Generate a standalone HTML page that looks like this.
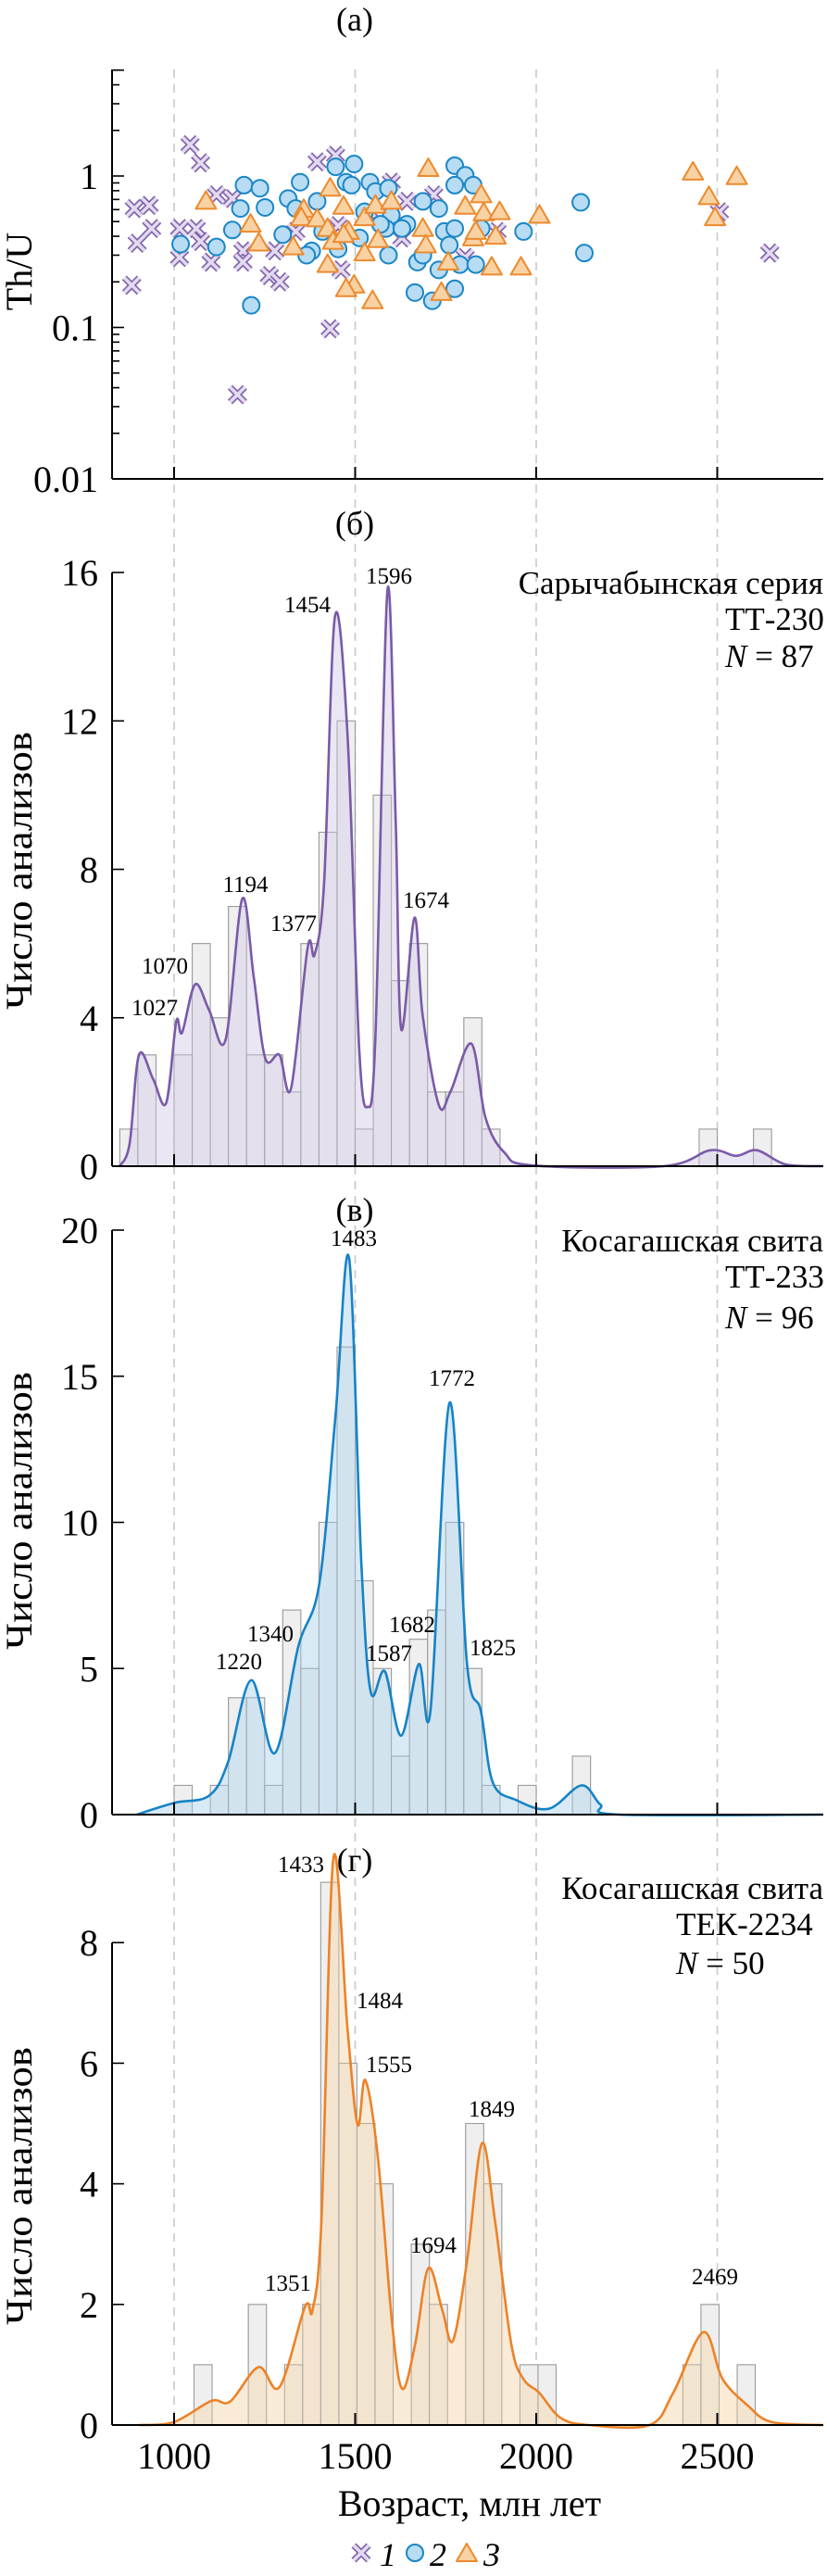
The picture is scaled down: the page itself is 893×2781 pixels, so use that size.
<!DOCTYPE html>
<html><head><meta charset="utf-8"><style>
html,body{margin:0;padding:0;background:#fff;}
svg, svg text{font-family:"Liberation Serif","DejaVu Serif",serif;}
</style></head><body>
<svg id="fig" width="893" height="2776" viewBox="0 0 893 2776" font-family="Liberation Serif, DejaVu Serif, serif"></svg>
<script>
// ---------- data ----------
const s1Age=[1044,1073,890,931,938,898,883,1015,1061,1015,1073,1102,1117,1161,1190,1190,1263,1292,1175,1395,1446,1431,1461,1600,1643,1629,1717,1804,1892,2506,2645,1278,1336,1453,1541];
const s1Th=[1.61,1.22,0.61,0.64,0.45,0.36,0.19,0.45,0.45,0.29,0.37,0.27,0.75,0.71,0.32,0.27,0.22,0.2,0.036,1.24,1.37,0.098,0.24,0.91,0.68,0.39,0.75,0.29,0.43,0.58,0.31,0.32,0.43,0.47,0.58];
const s2Age=[1018,1117,1161,1183,1193,1237,1251,1213,1300,1315,1348,1336,1380,1395,1410,1446,1497,1475,1490,1541,1556,1592,1600,1585,1592,1526,1512,1453,1366,1643,1687,1672,1687,1731,1746,1760,1731,1775,1804,1826,1775,1775,1789,1833,1775,1665,1713,1848,1965,2123,2133,1570,1629];
const s2Th=[0.355,0.34,0.44,0.61,0.87,0.83,0.62,0.14,0.41,0.71,0.91,0.61,0.32,0.68,0.43,1.15,1.2,0.91,0.87,0.91,0.79,0.83,0.55,0.45,0.30,0.58,0.39,0.33,0.30,0.48,0.68,0.27,0.30,0.61,0.43,0.35,0.24,1.17,1.01,0.87,0.87,0.45,0.26,0.26,0.18,0.17,0.15,0.45,0.43,0.67,0.31,0.48,0.45];
const s3Age=[1088,1211,1234,1329,1358,1351,1395,1431,1424,1424,1439,1468,1482,1468,1497,1475,1526,1526,1548,1556,1563,1600,1687,1695,1702,1738,1757,1804,1826,1833,1848,1855,1899,1888,1877,1958,2009,2433,2477,2494,2554];
const s3Th=[0.68,0.48,0.36,0.34,0.6,0.53,0.52,0.83,0.45,0.26,0.37,0.63,0.43,0.41,0.19,0.18,0.53,0.31,0.15,0.64,0.38,0.68,0.45,0.35,1.12,0.17,0.27,0.63,0.39,0.43,0.75,0.57,0.58,0.40,0.25,0.25,0.55,1.06,0.73,0.53,0.99];
const aTicks=[1,0.1,0.01];
const aTickLabels=["1","0.1","0.01"];
const xTicks=[1000,1500,2000,2500];

const bBins=[850,900,950,1000,1050,1100,1150,1200,1250,1300,1350,1400,1450,1500,1550,1600,1650,1700,1750,1800,1850,2450,2600];
const bCounts=[1,3,0,3,6,4,7,3,3,2,6,9,12,1,10,5,6,2,2,4,1,1,1];
const bKdeAge=[850,877,903,942,978,1006,1022,1058,1097,1142,1188,1220,1252,1291,1323,1369,1388,1414,1444,1479,1511,1534,1556,1589,1612,1627,1664,1686,1731,1763,1821,1860,1912,1990,2352,2481,2552,2610,2688,2792];
const bKdeVal=[0,0.6,3.0,2.35,1.7,3.9,3.6,4.9,4.2,3.4,7.2,5.1,2.9,3.0,2.1,5.9,5.7,7.6,14.8,11.6,3.2,1.6,3.5,15.5,9.3,3.7,6.7,4.1,1.65,2.0,3.3,1.3,0.37,0.02,0,0.43,0.28,0.43,0.05,0];
const bPeaks=[1027,1070,1194,1377,1454,1596,1674];
const bYTicks=[0,4,8,12,16];

const vBins=[1000,1050,1100,1150,1200,1250,1300,1350,1400,1450,1500,1550,1600,1650,1700,1750,1800,1850,1900,1950,2000,2050,2100];
const vCounts=[1,0,1,4,4,1,7,5,10,16,8,5,2,6,7,10,5,1,0,1,0,0,2];
const vKdeAge=[897,1000,1097,1149,1213,1278,1343,1401,1446,1483,1517,1543,1582,1627,1676,1708,1761,1809,1847,1880,1944,2035,2125,2177,2229,2792];
const vKdeVal=[0,0.4,0.65,1.8,4.6,2.1,5.75,7.9,13.7,19.05,8.65,4.2,4.9,2.7,5.15,3.55,14.1,5.15,3.55,1.1,0.5,0.2,1.0,0.35,0,0];
const vPeaks=[1220,1340,1483,1587,1682,1772,1825];
const vYTicks=[0,5,10,15,20];

const gBins=[1055,1105,1155,1205,1255,1305,1355,1405,1455,1505,1555,1605,1655,1705,1755,1805,1855,1905,1955,2005,2405,2455,2505,2555];
const gCounts=[1,0,0,2,0,1,2,9,6,5,4,0,3,2,0,5,4,0,1,1,1,2,0,1];
const gKdeAge=[903,1000,1103,1155,1233,1291,1362,1382,1407,1440,1479,1507,1528,1563,1602,1630,1666,1702,1741,1770,1809,1850,1886,1931,1964,2009,2067,2145,2313,2378,2462,2514,2585,2650,2792];
const gKdeVal=[0,0.05,0.4,0.39,0.96,0.63,1.97,1.9,3.4,9.4,6.56,4.98,5.72,4.43,1.69,0.6,1.35,2.6,1.9,1.4,2.72,4.67,3.4,1.35,0.77,0.53,0.12,0,0,0.53,1.54,0.77,0.32,0.05,0];
const gPeaks=[1351,1433,1484,1555,1694,1849,2469];
const gYTicks=[0,2,4,6,8];

// ---------- helpers ----------
const NS="http://www.w3.org/2000/svg";
const FONT='Liberation Serif, DejaVu Serif, serif';
const svg=document.getElementById('fig');
function mk(tag,attrs,parent){const e=document.createElementNS(NS,tag);for(const k in attrs)e.setAttribute(k,attrs[k]);(parent||svg).appendChild(e);return e;}
function txt(str,x,y,size,anchor,parent,extra){const t=mk('text',Object.assign({x:x,y:y,'font-size':size,'font-family':FONT,'text-anchor':anchor||'middle',fill:'#000'},extra||{}),parent);t.textContent=str;return t;}
const X0=121,X1=889;
function xs(age){return 188+(age-1000)*0.391;}
function smoothPath(pts){let d='M'+pts[0][0].toFixed(1)+','+pts[0][1].toFixed(1);for(let i=0;i<pts.length-1;i++){const p0=pts[Math.max(0,i-1)],p1=pts[i],p2=pts[i+1],p3=pts[Math.min(pts.length-1,i+2)];const c1x=p1[0]+(p2[0]-p0[0])/6,c1y=p1[1]+(p2[1]-p0[1])/6,c2x=p2[0]-(p3[0]-p1[0])/6,c2y=p2[1]-(p3[1]-p1[1])/6;d+=' C'+c1x.toFixed(1)+','+c1y.toFixed(1)+' '+c2x.toFixed(1)+','+c2y.toFixed(1)+' '+p2[0].toFixed(1)+','+p2[1].toFixed(1);}return d;}

const guides=mk('g',{});


xTicks.forEach(a=>{const l=mk('line',{x1:xs(a),x2:xs(a),y1:75,y2:2618,stroke:'#c8c8c8','stroke-width':1.6,'stroke-dasharray':'9,7'},guides);

});

// ---------- panel (a) ----------
const pa=mk('g',{});


const tA=txt('(a)',383,33,36,'middle',pa);


const ATOP=75,ABOT=517;
function ya(v){return 190-Math.log10(v)*163.5;}
function cross(x,y,parent){const g=mk('g',{},parent);const d='M'+(x-8)+','+(y-8)+'L'+(x+8)+','+(y+8)+'M'+(x+8)+','+(y-8)+'L'+(x-8)+','+(y+8);mk('path',{d:d,stroke:'#8566ad','stroke-width':7,'stroke-linecap':'butt'},g);mk('path',{d:d,stroke:'#e2dbef','stroke-width':3.5},g);return g;}
function circ(x,y,parent){return mk('circle',{cx:x,cy:y,r:9,fill:'#b7dcf3',stroke:'#1a86c7','stroke-width':2},parent);}
function tri(x,y,parent){return mk('path',{d:'M'+x+','+(y-11)+'L'+(x+11)+','+(y+8)+'L'+(x-11)+','+(y+8)+'Z',fill:'#f8d2a3',stroke:'#ec8a2e','stroke-width':2,'stroke-linejoin':'round'},parent);}
const g1=mk('g',{},pa);
s1Age.forEach((a,i)=>{const m=cross(xs(a),ya(s1Th[i]),g1);

});
const g2=mk('g',{},pa);
s2Age.forEach((a,i)=>{const m=circ(xs(a),ya(s2Th[i]),g2);

});
const g3=mk('g',{},pa);
s3Age.forEach((a,i)=>{const m=tri(xs(a),ya(s3Th[i]),g3);

});
const axA=mk('g',{},pa);
mk('line',{x1:X0,x2:X0,y1:ATOP,y2:ABOT,stroke:'#000','stroke-width':2},axA);
mk('line',{x1:X0,x2:X1,y1:ABOT,y2:ABOT,stroke:'#000','stroke-width':2},axA);
for(let k=-2;k<=0;k++){for(let m=1;m<=9;m++){const v=m*Math.pow(10,k);if(v>5.01)break;const y=ya(v);mk('line',{x1:X0,x2:X0+(m===1?13:8),y1:y,y2:y,stroke:'#000','stroke-width':1.6},axA);}}
mk('line',{x1:X0,x2:X0+13,y1:ya(5),y2:ya(5),stroke:'#000','stroke-width':1.6},axA);
aTicks.forEach((v,i)=>{const t=txt(aTickLabels[i],106,ya(v)+14,40,'end',axA);

});
xTicks.forEach(a=>{mk('line',{x1:xs(a),x2:xs(a),y1:ABOT,y2:ABOT-13,stroke:'#000','stroke-width':2},axA);});
const ylA=txt('Th/U',0,0,40,'middle',axA,{transform:'translate(34,293) rotate(-90)'});



// ---------- histogram panels ----------
function histPanel(cfg){
  const g=mk('g',{});
  
  
  const yv=v=>cfg.y0-v*cfg.unit;
  const t=txt(cfg.title,383,cfg.titleY,36,'middle',g);
  
  
  const bars=mk('g',{},g);
  
  
  cfg.bins.forEach((b,i)=>{if(!cfg.counts[i])return;const x=xs(b),w=xs(b+50)-x;const r=mk('rect',{x:x,y:yv(cfg.counts[i]),width:w,height:cfg.counts[i]*cfg.unit,fill:'#efefef',stroke:'#9a9a9a','stroke-width':1.1},bars);
  
  });
  const pts=cfg.kdeAge.map((a,i)=>[xs(a),yv(cfg.kdeVal[i])]);
  const d=smoothPath(pts);
  const f=mk('path',{d:d+' L'+pts[pts.length-1][0]+','+cfg.y0+' L'+pts[0][0]+','+cfg.y0+' Z',fill:cfg.fill,'fill-opacity':0.55,stroke:'none'},g);
  
  
  const bo=mk('g',{},g);
  cfg.bins.forEach((b,i)=>{if(!cfg.counts[i])return;const x=xs(b),w=xs(b+50)-x;mk('rect',{x:x,y:yv(cfg.counts[i]),width:w,height:cfg.counts[i]*cfg.unit,fill:'none',stroke:'#a0a0a0','stroke-width':0.8,'stroke-opacity':0.6},bo);});
  const l=mk('path',{d:d,fill:'none',stroke:cfg.color,'stroke-width':2.6},g);
  
  
  const ax=mk('g',{},g);
  
  
  mk('line',{x1:X0,x2:X0,y1:yv(cfg.yTicks[cfg.yTicks.length-1]),y2:cfg.y0,stroke:'#000','stroke-width':2},ax);
  mk('line',{x1:X0,x2:X1,y1:cfg.y0,y2:cfg.y0,stroke:'#000','stroke-width':2},ax);
  cfg.yTicks.forEach(v=>{mk('line',{x1:X0,x2:X0+13,y1:yv(v),y2:yv(v),stroke:'#000','stroke-width':1.6},ax);
    const tl=txt(String(v),106,yv(v)+14,40,'end',ax);
    
    });
  xTicks.forEach(a=>{mk('line',{x1:xs(a),x2:xs(a),y1:cfg.y0,y2:cfg.y0-13,stroke:'#000','stroke-width':2},ax);});
  const yl=txt('Число анализов',0,0,40,'middle',ax,{transform:'translate(34,'+cfg.ylabY+') rotate(-90)',textLength:300,lengthAdjust:'spacingAndGlyphs'});
  
  
  cfg.peaks.forEach((p,i)=>{const pl=txt(String(p),cfg.peakX[i],cfg.peakY[i],25,'middle',g);
    
    });
  const s1=txt(cfg.info[0],889,cfg.infoY[0],35,'end',g);
  
  
  const s2=txt(cfg.info[1],cfg.infoX,cfg.infoY[1],35,'start',g);
  
  
  const s3=mk('text',{x:cfg.infoX,y:cfg.infoY[2],'font-size':35,'font-family':FONT,fill:'#000'},g);
  
  
  const it=mk('tspan',{'font-style':'italic'},s3);it.textContent='N';
  const rt=mk('tspan',{},s3);rt.textContent=' = '+cfg.n;
}
histPanel({name:'panel-b-saryuchabyn',title:'(б)',titleY:577,y0:1259,unit:40.06,bins:bBins,counts:bCounts,kdeAge:bKdeAge,kdeVal:bKdeVal,color:'#7a5aa8',fill:'#d9d2ea',yTicks:bYTicks,ylabY:940,
  peaks:bPeaks,peakX:[167,178,265,317,332,420,460],peakY:[1096,1051,963,1005,661,630,980],info:['Сарычабынская серия','ТТ-230'],infoX:783,infoY:[641,680,720],n:87});
histPanel({name:'panel-v-kosagash-tt233',title:'(в)',titleY:1318,y0:1959,unit:31.55,bins:vBins,counts:vCounts,kdeAge:vKdeAge,kdeVal:vKdeVal,color:'#1683c6',fill:'#b8d8ef',yTicks:vYTicks,ylabY:1631,
  peaks:vPeaks,peakX:[258,292,382,420,445,488,532],peakY:[1802,1772,1345,1793,1762,1496,1787],info:['Косагашская свита','ТТ-233'],infoX:783,infoY:[1351,1390,1434],n:96});
histPanel({name:'panel-g-kosagash-tek2234',title:'(г)',titleY:2020,y0:2618,unit:65.1,bins:gBins,counts:gCounts,kdeAge:gKdeAge,kdeVal:gKdeVal,color:'#ec8228',fill:'#f5dbb5',yTicks:gYTicks,ylabY:2360,
  peaks:gPeaks,peakX:[311,325,410,420,468,531,772],peakY:[2473,2021,2168,2237,2432,2285,2466],info:['Косагашская свита','ТЕК-2234'],infoX:730,infoY:[2050,2089,2131],n:50});

const xl=mk('g',{});


xTicks.forEach(a=>{const t=txt(String(a),xs(a),2665,40,'middle',xl);

});
const xt=txt('Возраст, млн лет',507,2716,40,'middle',xl);



const lg=mk('g',{});


const le1=cross(390,2756,lg);


txt('1',419,2770,36,'middle',lg,{'font-style':'italic'});
const le2=circ(448,2756,lg);


txt('2',473,2770,36,'middle',lg,{'font-style':'italic'});
const le3=tri(504,2757,lg);


txt('3',531,2770,36,'middle',lg,{'font-style':'italic'});
</script>
</body></html>
